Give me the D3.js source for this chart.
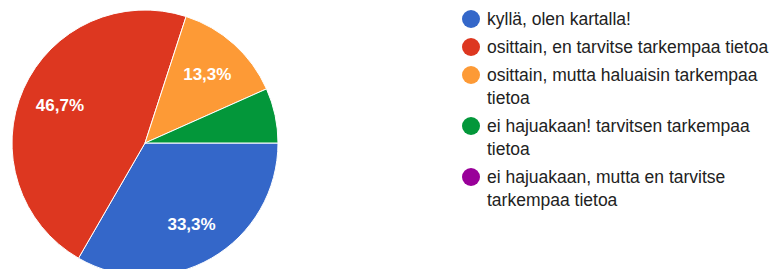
<!DOCTYPE html>
<html>
<head>
<meta charset="utf-8">
<script src="https://cdn.jsdelivr.net/npm/d3@7"></script>
<style>
  body { margin: 0; background: #fff; }
  svg { display: block; }
</style>
</head>
<body>
<div id="chart"></div>
<script>
// answers, counts and colours
const categories = [
  "kyllä, olen kartalla!",
  "osittain, en tarvitse tarkempaa tietoa",
  "osittain, mutta haluaisin tarkempaa tietoa",
  "ei hajuakaan! tarvitsen tarkempaa tietoa",
  "ei hajuakaan, mutta en tarvitse tarkempaa tietoa"
];
const counts = [5, 7, 2, 1, 0];
const colors = ["#3467c9", "#dd3720", "#fd9a36", "#03973a", "#990099"];

const width = 774, height = 269;
const cx = 145, cy = 143, radius = 133;

const svg = d3.select("#chart")
  .append("svg")
    .attr("width", width)
    .attr("height", height);

const total = d3.sum(counts);

// pie starts at 3 o'clock and goes clockwise
const pie = d3.pie()
  .sort(null)
  .value(d => d.value)
  .startAngle(Math.PI / 2)
  .endAngle(Math.PI / 2 + 2 * Math.PI);

const data = categories.map((c, i) => ({ name: c, value: counts[i], color: colors[i] }));
const arcs = pie(data);

const arc = d3.arc().innerRadius(0).outerRadius(radius);
const labelArc = d3.arc().innerRadius(radius * 0.7).outerRadius(radius * 0.7);

const g = svg.append("g")
  .attr("transform", `translate(${cx},${cy})`);

g.selectAll("path")
  .data(arcs.filter(d => d.data.value > 0))
  .enter().append("path")
    .attr("d", arc)
    .attr("fill", d => d.data.color)
    .attr("stroke", "#fff")
    .attr("stroke-width", 1);

// percentage labels, small slices get none
g.selectAll("text")
  .data(arcs.filter(d => d.data.value / total >= 0.1))
  .enter().append("text")
    .attr("transform", d => `translate(${labelArc.centroid(d)})`)
    .attr("text-anchor", "middle")
    .attr("dy", "0.35em")
    .attr("font-family", "Liberation Sans, Arial, sans-serif")
    .attr("font-size", "17px")
    .attr("font-weight", "bold")
    .attr("fill", "#fff")
    .text(d => (d.data.value / total * 100).toFixed(1).replace(".", ",") + "%");

// legend
const legendX = 471, textX = 487, maxW = 284;
const legend = svg.append("g")
  .attr("font-family", "Liberation Sans, Arial, sans-serif")
  .attr("font-size", "17.5px")
  .attr("fill", "#222");

let y = 19;
data.forEach(d => {
  legend.append("circle")
    .attr("cx", legendX)
    .attr("cy", y)
    .attr("r", 9)
    .attr("fill", d.color);

  const t = legend.append("text")
    .attr("x", textX)
    .attr("y", y)
    .attr("dy", "0.35em");

  // wrap words by measured width
  const words = d.name.split(" ");
  let line = [];
  let tspan = t.append("tspan").attr("x", textX);
  let lines = 1;
  words.forEach(w => {
    line.push(w);
    tspan.text(line.join(" "));
    if (tspan.node().getComputedTextLength() > maxW && line.length > 1) {
      line.pop();
      tspan.text(line.join(" "));
      line = [w];
      tspan = t.append("tspan").attr("x", textX).attr("dy", 23).text(w);
      lines++;
    }
  });
  y += 28 + (lines - 1) * 23;
});
</script>
</body>
</html>
